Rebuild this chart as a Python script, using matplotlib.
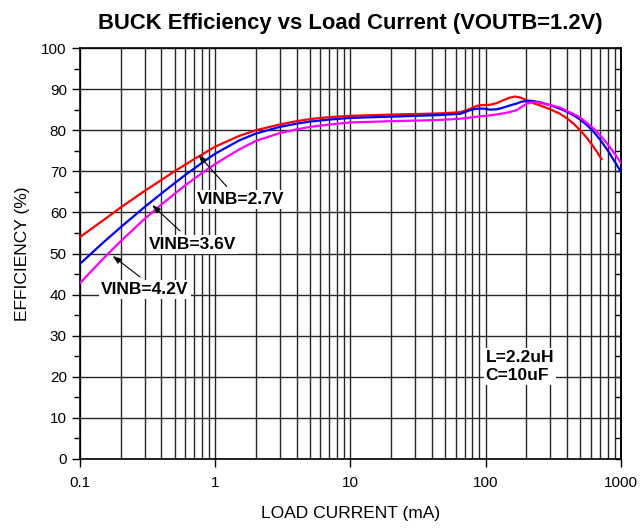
"""BUCK efficiency vs load current, VOUTB=1.2V."""

import matplotlib

matplotlib.use("Agg")

import matplotlib.pyplot as plt
from matplotlib.ticker import FixedLocator, FuncFormatter, LogLocator, MultipleLocator

# load current (mA) and efficiency (%) per input voltage
load_27 = [0.1, 0.15, 0.2, 0.3, 0.4, 0.5, 0.6, 0.7, 0.8, 1, 1.5, 2, 3, 4, 5, 7, 10, 20, 46,
           65, 77, 84, 91, 108, 121, 135, 150, 165, 183, 200, 225, 260, 300, 350, 400, 450,
           500, 560, 630, 680, 720]
eff_27 = [54.0, 58.2, 61.2, 65.2, 67.9, 70.0, 71.6, 73.0, 74.1, 76.0, 78.6, 80.0, 81.4, 82.2,
          82.7, 83.2, 83.5, 83.8, 84.1, 84.4, 85.2, 85.8, 86.1, 86.2, 86.6, 87.3, 87.9, 88.2,
          87.9, 87.3, 86.6, 85.9, 85.1, 84.1, 82.9, 81.5, 80.0, 78.2, 75.9, 74.3, 73.0]

load_36 = [0.1, 0.15, 0.2, 0.3, 0.4, 0.5, 0.6, 0.7, 0.8, 1, 1.5, 2, 3, 4, 5, 7, 10, 20, 46,
           65, 77, 84, 91, 100, 108, 121, 135, 150, 170, 183, 206, 225, 260, 300, 350, 400,
           450, 500, 560, 630, 700, 800, 900, 1000]
eff_36 = [47.5, 52.8, 56.4, 61.3, 64.6, 67.1, 69.1, 70.7, 72.1, 74.3, 77.5, 79.2, 80.8, 81.6,
          82.1, 82.6, 83.0, 83.3, 83.7, 84.0, 84.9, 85.2, 85.3, 85.2, 85.0, 85.1, 85.5, 86.0,
          86.5, 86.9, 87.2, 87.1, 86.7, 86.1, 85.3, 84.5, 83.6, 82.6, 81.3, 79.6, 77.8, 75.1,
          72.4, 69.9]

load_42 = [0.1, 0.15, 0.2, 0.3, 0.4, 0.5, 0.6, 0.7, 0.8, 1, 1.5, 2, 3, 4, 5, 7, 10, 20, 46,
           65, 77, 91, 108, 135, 150, 170, 183, 200, 217, 240, 260, 300, 350, 400, 450, 500,
           560, 630, 700, 800, 900, 1000]
eff_42 = [42.8, 48.9, 53.0, 58.4, 61.9, 64.5, 66.6, 68.2, 69.6, 71.8, 75.3, 77.4, 79.3, 80.2,
          80.8, 81.4, 81.9, 82.2, 82.5, 82.8, 83.1, 83.4, 83.6, 84.1, 84.4, 84.9, 85.6, 86.4,
          86.8, 86.8, 86.6, 86.1, 85.6, 84.7, 83.9, 83.1, 81.8, 80.4, 78.9, 76.6, 74.3, 72.1]

series_labels = ["VINB=2.7V", "VINB=3.6V", "VINB=4.2V"]
x_ticks = [0.1, 1, 10, 100, 1000]

FONT = "Liberation Sans"


def main() -> None:
    plt.rcParams["font.family"] = [FONT, "DejaVu Sans"]
    fig = plt.figure(figsize=(6.4, 5.28), dpi=100)
    ax = fig.add_axes([0.125, 0.1307, 0.845, 0.7783])

    ax.plot(load_27, eff_27, color="#ff0000", lw=1.6, zorder=3)
    ax.plot(load_36, eff_36, color="#0000ff", lw=1.6, zorder=3)
    ax.plot(load_42, eff_42, color="#ff00ff", lw=1.6, zorder=3)

    ax.set_xscale("log")
    ax.set_xlim(0.1, 1000)
    ax.set_ylim(0, 100)

    ax.xaxis.set_major_locator(FixedLocator(x_ticks))
    ax.xaxis.set_major_formatter(FuncFormatter(lambda v, _: f"{v:g}"))
    ax.xaxis.set_minor_locator(LogLocator(base=10, subs=range(2, 10)))
    ax.xaxis.set_minor_formatter(FuncFormatter(lambda v, _: ""))
    ax.yaxis.set_major_locator(MultipleLocator(10))
    ax.yaxis.set_minor_locator(MultipleLocator(5))

    ax.grid(True, which="major", axis="both", color="0.15", lw=1.0, zorder=1)
    ax.grid(True, which="minor", axis="x", color="0.15", lw=1.0, zorder=1)

    ax.tick_params(axis="x", which="major", direction="out", length=6, width=1,
                   labelsize=11, pad=6, top=False)
    ax.tick_params(axis="x", which="minor", length=0)
    ax.tick_params(axis="y", which="major", direction="out", length=6, width=1,
                   labelsize=11, right=False)
    ax.tick_params(axis="y", which="minor", direction="out", length=4, width=1)

    # inward minor ticks on the right edge
    ax_r = ax.secondary_yaxis("right")
    ax_r.yaxis.set_major_locator(MultipleLocator(10))
    ax_r.yaxis.set_minor_locator(MultipleLocator(5))
    ax_r.tick_params(which="both", direction="in", length=4, width=1, labelright=False)
    ax_r.spines["right"].set_linewidth(1.2)

    for side in ("left", "bottom", "top", "right"):
        ax.spines[side].set_linewidth(1.2)

    ax.set_xlabel("LOAD CURRENT (mA)", fontsize=12.5, labelpad=12)
    ax.set_ylabel("EFFICIENCY (%)", fontsize=12.5, labelpad=8)
    ax.set_title("BUCK Efficiency vs Load Current (VOUTB=1.2V)", fontsize=15.8,
                 fontweight="bold", pad=14)

    box = dict(boxstyle="square,pad=0.12", fc="white", ec="none")
    label_pos = [(0.733, 63.1), (0.324, 52.2), (0.143, 41.2)]
    arrow_tail = [(1.216, 66.3), (0.549, 55.5), (0.278, 44.3)]
    arrow_head = [(0.750, 74.0), (0.342, 61.8), (0.1745, 49.4)]
    for text, pos, tail, head in zip(series_labels, label_pos, arrow_tail, arrow_head):
        ax.text(pos[0], pos[1], text, fontsize=12.5, fontweight="bold", ha="left",
                va="center", bbox=box, zorder=4)
        ax.annotate("", xy=head, xytext=tail, zorder=5,
                    arrowprops=dict(arrowstyle="-|>,head_length=0.5,head_width=0.18",
                                    color="black", lw=0.8, shrinkA=0, shrinkB=0))

    ax.text(100, 22.5, "L=2.2uH\nC=10uF", fontsize=12.5, fontweight="bold", ha="left",
            va="center", linespacing=1.25, bbox=box, zorder=4)

    fig.savefig("out.png", dpi=100)
    plt.close(fig)


if __name__ == "__main__":
    main()
